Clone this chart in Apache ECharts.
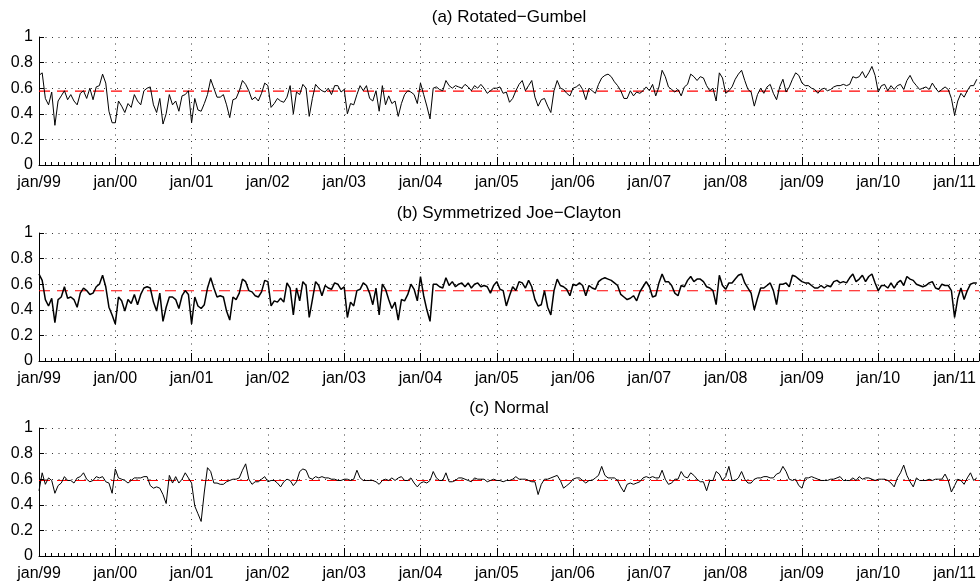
<!DOCTYPE html>
<html>
<head>
<meta charset="utf-8">
<script src="https://cdn.jsdelivr.net/npm/echarts@6/dist/echarts.min.js"></script>
<style>
  html, body { margin: 0; padding: 0; background: #fff; }
  #main { width: 980px; height: 588px; }
</style>
</head>
<body>
<div id="main"></div>
<script>
// tick labels for the year axis (one tick per january)
var yearLabels = ['jan/99', 'jan/00', 'jan/01', 'jan/02', 'jan/03', 'jan/04', 'jan/05',
                  'jan/06', 'jan/07', 'jan/08', 'jan/09', 'jan/10', 'jan/11'];
var panelTitles = ['(a) Rotated\u2212Gumbel', '(b) Symmetrized Joe\u2212Clayton', '(c) Normal'];
// sample mean of each series (red dashed line)
var means = [0.577, 0.549, 0.59];
// twice-a-month readings, jan/99 to apr/11
var rgValues = [
  0.70, 0.72, 0.52, 0.47, 0.57, 0.31, 0.50, 0.54, 0.58, 0.51, 0.55, 0.50, 0.47, 0.56, 0.58, 0.52, 0.60, 0.51, 0.61, 0.62, 0.71, 0.64, 0.42, 0.33,
  0.33, 0.50, 0.46, 0.41, 0.48, 0.45, 0.55, 0.50, 0.47, 0.58, 0.60, 0.61, 0.47, 0.41, 0.52, 0.32, 0.40, 0.55, 0.47, 0.50, 0.42, 0.54, 0.55, 0.58,
  0.33, 0.52, 0.43, 0.42, 0.48, 0.55, 0.67, 0.60, 0.53, 0.53, 0.55, 0.47, 0.37, 0.51, 0.52, 0.58, 0.66, 0.63, 0.58, 0.51, 0.53, 0.50, 0.56, 0.64,
  0.62, 0.45, 0.48, 0.52, 0.50, 0.49, 0.53, 0.62, 0.40, 0.57, 0.55, 0.63, 0.60, 0.38, 0.52, 0.63, 0.60, 0.58, 0.57, 0.60, 0.55, 0.62, 0.62, 0.57,
  0.59, 0.40, 0.48, 0.47, 0.55, 0.62, 0.58, 0.62, 0.52, 0.50, 0.58, 0.42, 0.62, 0.47, 0.54, 0.48, 0.50, 0.38, 0.48, 0.55, 0.58, 0.57, 0.55, 0.48,
  0.64, 0.55, 0.46, 0.36, 0.60, 0.61, 0.59, 0.58, 0.66, 0.62, 0.60, 0.62, 0.61, 0.60, 0.63, 0.61, 0.58, 0.62, 0.60, 0.63, 0.60, 0.56, 0.58, 0.60,
  0.60, 0.61, 0.56, 0.57, 0.49, 0.52, 0.58, 0.63, 0.66, 0.58, 0.62, 0.66, 0.53, 0.46, 0.51, 0.52, 0.46, 0.41, 0.58, 0.66, 0.60, 0.59, 0.56, 0.54,
  0.60, 0.61, 0.63, 0.59, 0.51, 0.60, 0.58, 0.56, 0.63, 0.68, 0.70, 0.71, 0.69, 0.65, 0.62, 0.58, 0.52, 0.52, 0.58, 0.54, 0.57, 0.56, 0.58, 0.61,
  0.58, 0.63, 0.54, 0.61, 0.74, 0.69, 0.61, 0.59, 0.57, 0.59, 0.54, 0.61, 0.63, 0.71, 0.69, 0.66, 0.69, 0.68, 0.62, 0.58, 0.60, 0.50, 0.72, 0.68,
  0.56, 0.58, 0.61, 0.67, 0.71, 0.74, 0.66, 0.59, 0.57, 0.46, 0.55, 0.60, 0.56, 0.61, 0.63, 0.56, 0.51, 0.61, 0.67, 0.57, 0.61, 0.67, 0.72, 0.70,
  0.64, 0.62, 0.62, 0.60, 0.59, 0.56, 0.59, 0.60, 0.58, 0.59, 0.61, 0.62, 0.62, 0.63, 0.62, 0.63, 0.69, 0.68, 0.69, 0.73, 0.68, 0.72, 0.77, 0.70,
  0.57, 0.62, 0.63, 0.58, 0.62, 0.59, 0.62, 0.63, 0.59, 0.66, 0.70, 0.65, 0.62, 0.59, 0.60, 0.61, 0.59, 0.64, 0.60, 0.57, 0.59, 0.61, 0.59, 0.52,
  0.39, 0.50, 0.56, 0.53, 0.58, 0.62, 0.62, 0.67
];
var sjcValues = [
  0.68, 0.63, 0.48, 0.43, 0.49, 0.30, 0.48, 0.50, 0.58, 0.49, 0.50, 0.48, 0.42, 0.53, 0.57, 0.55, 0.52, 0.53, 0.58, 0.60, 0.67, 0.58, 0.42, 0.36,
  0.29, 0.50, 0.47, 0.39, 0.48, 0.45, 0.52, 0.44, 0.52, 0.57, 0.58, 0.57, 0.46, 0.39, 0.53, 0.31, 0.42, 0.50, 0.50, 0.48, 0.41, 0.51, 0.55, 0.52,
  0.29, 0.50, 0.43, 0.41, 0.44, 0.57, 0.65, 0.57, 0.50, 0.51, 0.50, 0.39, 0.32, 0.50, 0.48, 0.53, 0.64, 0.62, 0.55, 0.54, 0.51, 0.50, 0.54, 0.63,
  0.62, 0.43, 0.47, 0.46, 0.49, 0.46, 0.61, 0.57, 0.36, 0.57, 0.47, 0.62, 0.59, 0.34, 0.48, 0.62, 0.59, 0.51, 0.59, 0.57, 0.56, 0.61, 0.60, 0.56,
  0.58, 0.34, 0.46, 0.43, 0.55, 0.56, 0.61, 0.59, 0.53, 0.44, 0.57, 0.36, 0.60, 0.56, 0.48, 0.41, 0.46, 0.32, 0.48, 0.47, 0.52, 0.60, 0.56, 0.47,
  0.66, 0.51, 0.40, 0.31, 0.60, 0.60, 0.58, 0.57, 0.65, 0.59, 0.62, 0.58, 0.60, 0.61, 0.58, 0.61, 0.57, 0.60, 0.61, 0.58, 0.59, 0.58, 0.53, 0.59,
  0.62, 0.56, 0.55, 0.43, 0.51, 0.58, 0.55, 0.62, 0.61, 0.57, 0.63, 0.58, 0.48, 0.43, 0.44, 0.55, 0.42, 0.36, 0.55, 0.64, 0.59, 0.58, 0.56, 0.51,
  0.60, 0.59, 0.61, 0.59, 0.51, 0.59, 0.57, 0.56, 0.62, 0.64, 0.65, 0.64, 0.63, 0.61, 0.59, 0.52, 0.50, 0.48, 0.49, 0.51, 0.47, 0.54, 0.58, 0.62,
  0.58, 0.50, 0.51, 0.61, 0.68, 0.62, 0.62, 0.59, 0.53, 0.51, 0.59, 0.58, 0.63, 0.66, 0.62, 0.64, 0.64, 0.62, 0.58, 0.57, 0.55, 0.44, 0.67, 0.59,
  0.56, 0.61, 0.61, 0.64, 0.67, 0.68, 0.61, 0.57, 0.53, 0.40, 0.49, 0.57, 0.57, 0.59, 0.61, 0.55, 0.44, 0.60, 0.60, 0.61, 0.58, 0.67, 0.66, 0.64,
  0.62, 0.61, 0.61, 0.59, 0.57, 0.57, 0.59, 0.57, 0.59, 0.58, 0.62, 0.63, 0.61, 0.62, 0.61, 0.65, 0.68, 0.62, 0.64, 0.67, 0.62, 0.66, 0.68, 0.61,
  0.55, 0.59, 0.59, 0.57, 0.61, 0.57, 0.61, 0.63, 0.59, 0.66, 0.64, 0.63, 0.60, 0.59, 0.58, 0.59, 0.61, 0.62, 0.57, 0.56, 0.60, 0.59, 0.59, 0.55,
  0.34, 0.49, 0.57, 0.48, 0.55, 0.60, 0.61, 0.61
];
var normValues = [
  0.51, 0.65, 0.56, 0.61, 0.59, 0.49, 0.55, 0.57, 0.62, 0.59, 0.59, 0.57, 0.61, 0.62, 0.65, 0.60, 0.58, 0.59, 0.62, 0.61, 0.62, 0.58, 0.57, 0.49,
  0.68, 0.61, 0.60, 0.59, 0.57, 0.59, 0.61, 0.61, 0.61, 0.62, 0.62, 0.55, 0.53, 0.54, 0.53, 0.48, 0.41, 0.63, 0.57, 0.62, 0.57, 0.60, 0.65, 0.61,
  0.57, 0.39, 0.33, 0.27, 0.50, 0.69, 0.66, 0.57, 0.57, 0.56, 0.56, 0.58, 0.59, 0.60, 0.60, 0.61, 0.67, 0.72, 0.60, 0.56, 0.58, 0.58, 0.60, 0.62,
  0.58, 0.59, 0.59, 0.57, 0.54, 0.58, 0.60, 0.59, 0.55, 0.58, 0.66, 0.68, 0.67, 0.61, 0.60, 0.62, 0.61, 0.62, 0.61, 0.61, 0.60, 0.60, 0.59, 0.59,
  0.60, 0.60, 0.59, 0.60, 0.67, 0.61, 0.59, 0.59, 0.59, 0.59, 0.58, 0.56, 0.59, 0.60, 0.59, 0.61, 0.59, 0.61, 0.62, 0.59, 0.59, 0.61, 0.57, 0.54,
  0.57, 0.58, 0.57, 0.59, 0.66, 0.61, 0.59, 0.59, 0.65, 0.58, 0.58, 0.59, 0.61, 0.61, 0.60, 0.59, 0.58, 0.61, 0.60, 0.60, 0.60, 0.58, 0.59, 0.60,
  0.59, 0.59, 0.58, 0.59, 0.59, 0.60, 0.62, 0.60, 0.60, 0.60, 0.59, 0.58, 0.58, 0.48, 0.56, 0.60, 0.60, 0.61, 0.62, 0.63, 0.59, 0.53, 0.55, 0.57,
  0.60, 0.61, 0.61, 0.59, 0.57, 0.59, 0.59, 0.61, 0.63, 0.70, 0.63, 0.61, 0.61, 0.61, 0.59, 0.54, 0.50, 0.56, 0.57, 0.56, 0.57, 0.58, 0.61, 0.62,
  0.61, 0.62, 0.61, 0.61, 0.67, 0.60, 0.56, 0.57, 0.60, 0.60, 0.66, 0.62, 0.61, 0.65, 0.63, 0.60, 0.58, 0.58, 0.51, 0.59, 0.59, 0.66, 0.64, 0.59,
  0.62, 0.70, 0.59, 0.59, 0.61, 0.66, 0.60, 0.57, 0.57, 0.60, 0.61, 0.61, 0.62, 0.62, 0.61, 0.61, 0.64, 0.65, 0.70, 0.66, 0.60, 0.59, 0.60, 0.55,
  0.53, 0.61, 0.61, 0.62, 0.61, 0.60, 0.59, 0.59, 0.59, 0.60, 0.60, 0.61, 0.62, 0.59, 0.59, 0.59, 0.61, 0.59, 0.62, 0.60, 0.61, 0.61, 0.60, 0.59,
  0.60, 0.60, 0.60, 0.59, 0.57, 0.54, 0.61, 0.65, 0.71, 0.63, 0.58, 0.54, 0.61, 0.59, 0.59, 0.59, 0.60, 0.59, 0.60, 0.60, 0.60, 0.64, 0.59, 0.50,
  0.55, 0.60, 0.59, 0.56, 0.61, 0.65, 0.59, 0.61
];

var allValues = [rgValues, sjcValues, normValues];
var gridTops = [37, 233, 428];
var xMax = 12.32; // axis ends late april 2011

// x position in years since jan/99 (two readings per month)
function toPoints(values) {
    return values.map(function (v, i) { return [i / 24, v]; });
}

var grids = [], xAxes = [], yAxes = [], series = [], titles = [];
for (var k = 0; k < 3; k++) {
    grids.push({ left: 39, top: gridTops[k], width: 940, height: 128 });
    titles.push({
        text: panelTitles[k],
        left: 509,
        top: gridTops[k] - 28,
        textAlign: 'center',
        padding: 0,
        textStyle: { fontFamily: 'Liberation Sans', fontSize: 17, fontWeight: 'normal', color: '#000' }
    });
    xAxes.push({
        type: 'value',
        gridIndex: k,
        min: 0,
        max: xMax,
        interval: 1,
        axisLine: { lineStyle: { color: '#000', width: 1 } },
        axisTick: { inside: true, length: 8, lineStyle: { color: '#000' } },
        minorTick: { show: true, splitNumber: 12, length: 3, lineStyle: { color: '#000' } },
        axisLabel: {
            margin: 10,
            color: '#000',
            fontFamily: 'Liberation Sans',
            fontSize: 16,
            showMaxLabel: false,
            formatter: function (v) {
                return Math.abs(v - Math.round(v)) < 1e-6 ? (yearLabels[Math.round(v)] || '') : '';
            }
        },
        splitLine: { show: true, lineStyle: { color: '#333', type: [1, 5.5], width: 1 } }
    });
    yAxes.push({
        type: 'value',
        gridIndex: k,
        min: 0,
        max: 1,
        interval: 0.2,
        axisLine: { show: true, lineStyle: { color: '#000', width: 1 } },
        axisTick: { show: true, inside: true, length: 5, lineStyle: { color: '#000' } },
        axisLabel: {
            margin: 6,
            color: '#000',
            fontFamily: 'Liberation Sans',
            fontSize: 16,
            formatter: function (v) { return String(Math.round(v * 10) / 10); }
        },
        splitLine: { show: true, lineStyle: { color: '#333', type: [1, 5.5], width: 1 } }
    });
    // red dashed mean line, across the whole axis
    series.push({
        type: 'line',
        xAxisIndex: k,
        yAxisIndex: k,
        data: [[0, means[k]], [xMax, means[k]]],
        showSymbol: false,
        silent: true,
        z: 2,
        lineStyle: { color: '#ff0000', type: [11, 7], width: 1.2 }
    });
    series.push({
        type: 'line',
        xAxisIndex: k,
        yAxisIndex: k,
        data: toPoints(allValues[k]),
        showSymbol: false,
        z: 3,
        lineStyle: { color: '#000', width: k === 1 ? 1.5 : 1 }
    });
}

var myChart = echarts.init(document.getElementById('main'));
myChart.setOption({
    animation: false,
    backgroundColor: '#fff',
    title: titles,
    grid: grids,
    xAxis: xAxes,
    yAxis: yAxes,
    series: series
});
</script>
</body>
</html>
